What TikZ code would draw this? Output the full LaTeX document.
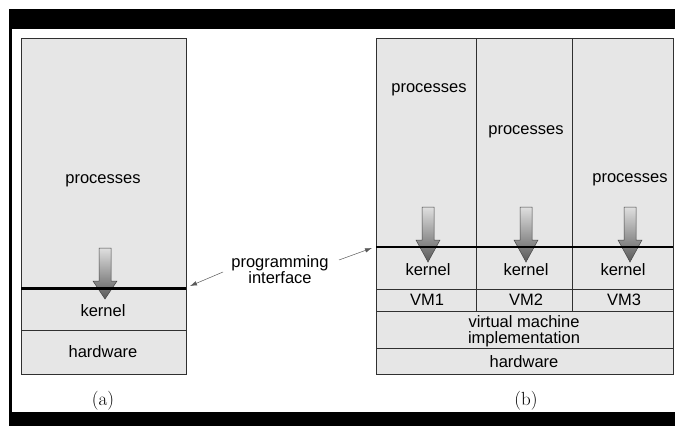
\documentclass[tikz,border=0pt]{standalone}
\usepackage{fontspec}
\setmainfont{Liberation Sans}
\newfontfamily\capfont{Latin Modern Roman}
\usetikzlibrary{arrows.meta}
\definecolor{boxfill}{HTML}{E6E6E6}
\definecolor{boxline}{HTML}{303030}
\newcommand\myDownArrow[4]{%
  \shadedraw[top color=gray!25, bottom color=gray!70!black, draw=gray!55!black, line width=0.5pt]
    (#1-6,#2) -- (#1+6,#2) -- (#1+6,#3) -- (#1+12,#3) -- (#1,#4) -- (#1-12,#3) -- (#1-6,#3) -- cycle;}
\begin{document}
\begin{tikzpicture}[x=1pt,y=-1pt,
  lbl/.style={inner sep=0pt, font=\fontsize{16.5}{19}\selectfont, align=center},
  sublabel/.style={inner sep=0pt, font=\capfont\fontsize{19}{22}\selectfont},
  box/.style={fill=boxfill, draw=boxline, line width=0.9pt},
  div/.style={draw=boxline, line width=0.9pt},
  api/.style={draw=black, line width=2.4pt},
  pia/.style={draw=gray!70!black, line width=0.5pt, -{Latex[length=7pt,width=4.5pt]}}]
\useasboundingbox (0,0) rectangle (675,426);
\fill[white] (0,0) rectangle (675,426);
% frame bars
\fill[black] (9,9) rectangle (675,29);
\fill[black] (9,9) rectangle (12,426);
\fill[black] (9,412) rectangle (675,426);
% (a)
\draw[box] (21,38) rectangle (186,374);
\draw[div] (21,330) -- (186,330);
\node[lbl] (pa) at (103,181) {processes};
\node[lbl] (ka) at (103,311) {kernel};
\node[lbl] (ha) at (103,352) {hardware};
\myDownArrow{105}{248}{281}{299}
\draw[api] (21,288.5) -- (186,288.5);
\node[sublabel] (la) at (103,401) {(a)};
% (b)
\draw[box] (376,38) rectangle (673,374);
\draw[div] (476,38) -- (476,311);
\draw[div] (572,38) -- (572,311);
\draw[div] (376,289) -- (673,289);
\draw[div] (376,311) -- (673,311);
\draw[div] (376,348) -- (673,348);
\node[lbl] (p1) at (429,90) {processes};
\node[lbl] (p2) at (526,132) {processes};
\node[lbl] (p3) at (630,180) {processes};
\myDownArrow{428}{207}{240}{262}
\myDownArrow{526}{207}{240}{262}
\myDownArrow{630}{207}{240}{262}
\draw[api] (376,247) -- (673,247);
\node[lbl] (k1) at (428,270) {kernel};
\node[lbl] (k2) at (526,270) {kernel};
\node[lbl] (k3) at (623,270) {kernel};
\node[lbl] (v1) at (427,300) {VM1};
\node[lbl] (v2) at (526,300) {VM2};
\node[lbl] (v3) at (624,300) {VM3};
\node[lbl, text depth=0pt] (vmi) at (524,330) {virtual machine\\[-3pt]implementation};
\node[lbl] (hb) at (524,362) {hardware};
\node[sublabel] (lb) at (526,401) {(b)};
% programming interface
\node[lbl] (pi) at (280,270) {programming\\[-3pt]interface};
\coordinate (piL) at (223,272);
\coordinate (piR) at (339,260);
\coordinate (ia) at (190,286);
\coordinate (ib) at (372,248);
\draw[pia] (piL) -- (ia);
\draw[pia] (piR) -- (ib);
\end{tikzpicture}
\end{document}
